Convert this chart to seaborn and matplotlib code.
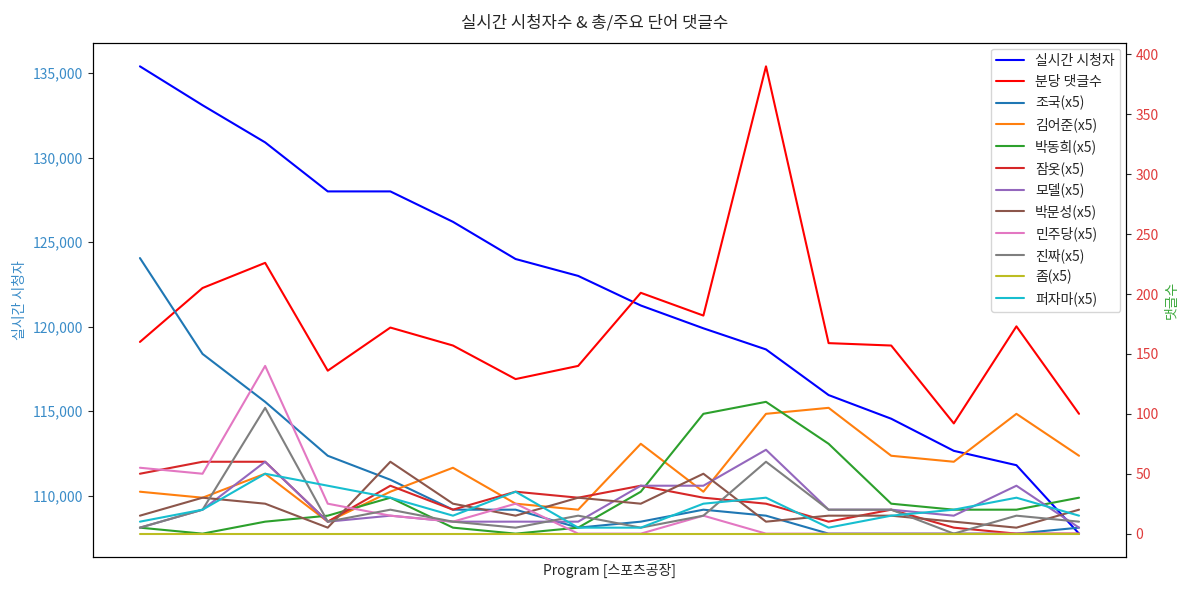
import numpy as np
import pandas as pd
import matplotlib
matplotlib.use("Agg")
import matplotlib.pyplot as plt
import matplotlib.ticker as mticker
import seaborn as sns

# ---- data ----
programs = list(range(16))
viewers = [135400, 133100, 130900, 128000, 128000, 126200, 124000, 123000,
           121250, 119900, 118650, 115950, 114550, 112650, 111800, 107750]
comments_per_min = [160, 205, 226, 136, 172, 157, 129, 140,
                    201, 182, 390, 159, 157, 92, 173, 100]

word_scale = 5
w_jokuk = [46, 30, 22, 13, 9, 4, 4, 1, 2, 4, 3, 0, 0, 0, 0, 1]
w_kimeojun = [7, 6, 10, 2, 7, 11, 5, 4, 15, 7, 20, 21, 13, 12, 20, 13]
w_parkdonghee = [1, 0, 2, 3, 6, 1, 0, 1, 7, 20, 22, 15, 5, 4, 4, 6]
w_jamot = [10, 12, 12, 2, 8, 4, 7, 6, 8, 6, 5, 2, 4, 1, 0, 0]
w_model = [1, 4, 12, 2, 3, 2, 2, 2, 8, 8, 14, 4, 4, 3, 8, 1]
w_parkmunsung = [3, 6, 5, 1, 12, 5, 3, 6, 5, 10, 2, 3, 3, 2, 1, 4]
w_minjudang = [11, 10, 28, 5, 3, 2, 5, 0, 0, 3, 0, 0, 0, 0, 0, 0]
w_jinjja = [1, 4, 21, 2, 4, 2, 1, 3, 1, 3, 12, 4, 4, 0, 3, 2]
w_jom = [0] * 16
w_peojama = [2, 4, 10, 8, 6, 3, 7, 1, 1, 5, 6, 1, 3, 4, 6, 3]

word_names = ["조국", "김어준", "박동희", "잠옷", "모델", "박문성", "민주당", "진짜", "좀", "퍼자마"]
word_counts = [w_jokuk, w_kimeojun, w_parkdonghee, w_jamot, w_model,
               w_parkmunsung, w_minjudang, w_jinjja, w_jom, w_peojama]

title = "실시간 시청자수 & 총/주요 단어 댓글수"
xlabel = "Program [스포츠공장]"
ylabel_left = "실시간 시청자"
ylabel_right = "댓글수"

# ---- style ----
sns.set_style("ticks")
plt.rcParams['font.family'] = ['Noto Sans CJK KR', 'DejaVu Sans']
plt.rcParams['axes.unicode_minus'] = False

fig = plt.figure(figsize=(11.89, 5.92), dpi=100)
ax = fig.add_axes([0.0782, 0.0591, 0.8688, 0.8683])
ax2 = ax.twinx()

sns.lineplot(x=programs, y=viewers, ax=ax, color="blue", lw=1.5, label="실시간 시청자", legend=False)
sns.lineplot(x=programs, y=comments_per_min, ax=ax2, color="red", lw=1.5, label="분당 댓글수", legend=False)

palette = sns.color_palette("tab10", 10)
for name, counts, col in zip(word_names, word_counts, palette):
    vals = [c * word_scale for c in counts]
    sns.lineplot(x=programs, y=vals, ax=ax2, color=col, lw=1.5,
                 label=f"{name}(x{word_scale})", legend=False)

ax.set_xticks([])
ax.set_xlabel(xlabel, fontsize=10)
ax.set_ylabel(ylabel_left, color="#3a8cc8", fontsize=10)
ax.tick_params(axis='y', labelcolor="#3a8cc8", labelsize=10)
ax.yaxis.set_major_formatter(mticker.FuncFormatter(lambda v, p: f"{int(v):,}"))
ax2.set_ylabel(ylabel_right, color="#3aa83a", fontsize=10)
ax2.tick_params(axis='y', labelcolor="#e03c3c", labelsize=10)
for a in (ax, ax2):
    for s in a.spines.values():
        s.set_visible(True)
        s.set_color("black")

h1, l1 = ax.get_legend_handles_labels()
h2, l2 = ax2.get_legend_handles_labels()
ax2.legend(h1 + h2, l1 + l2, loc="upper right", fontsize=10, framealpha=0.8,
           borderaxespad=0.4, handlelength=2.0, labelspacing=0.5)

fig.suptitle(title, fontsize=12, y=0.975)
fig.savefig("out.png", dpi=100)
